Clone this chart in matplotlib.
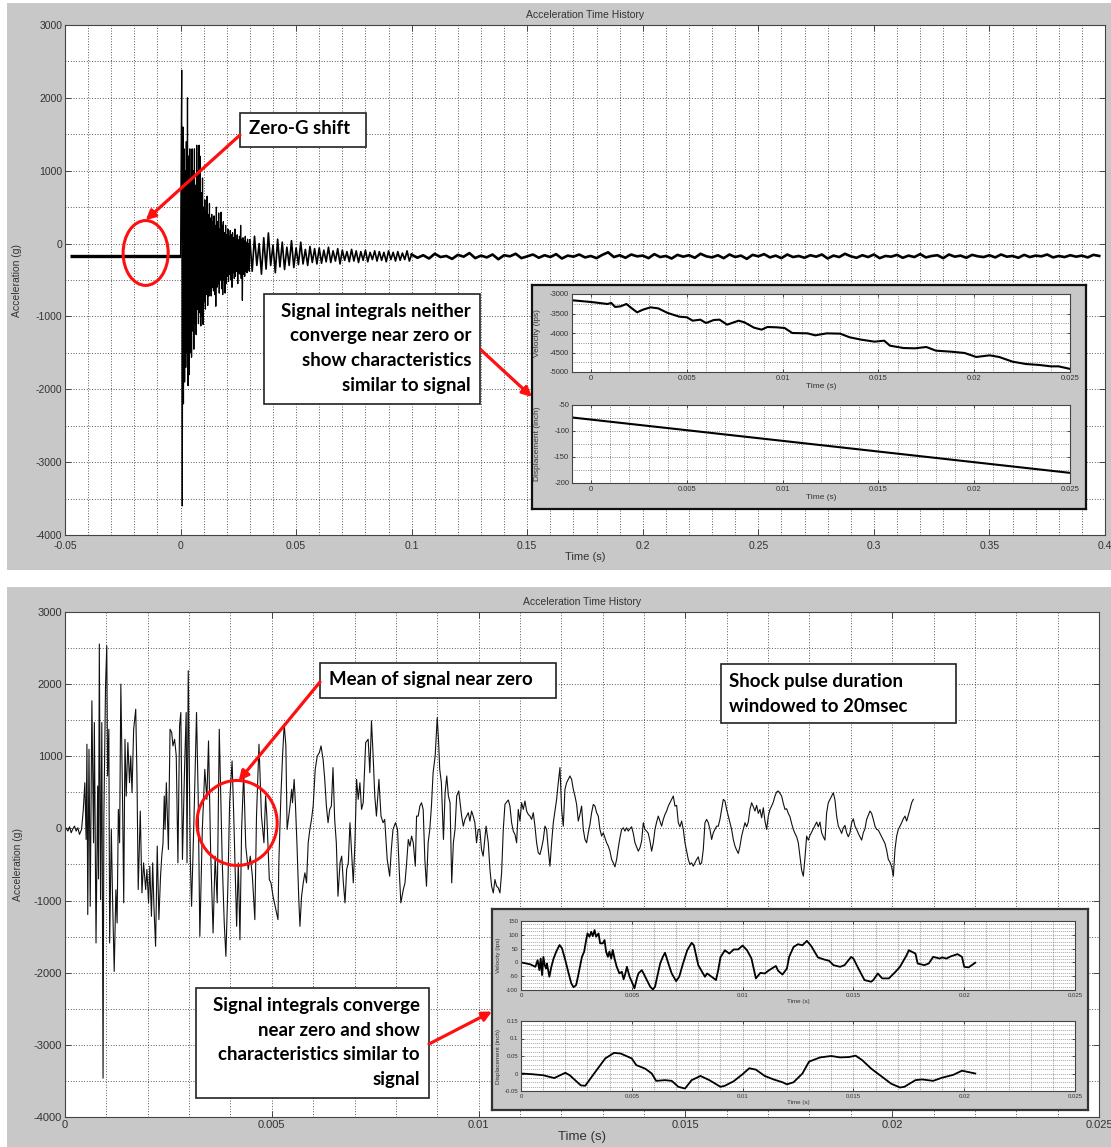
import numpy as np
import matplotlib.pyplot as plt
from matplotlib.patches import Ellipse, Rectangle
from matplotlib.ticker import MultipleLocator, FuncFormatter

# ---------------- top record (zero-g shifted, 0.4 s) ----------------
pre_t = [-0.048, 0.0]
pre_acc = [-170, -170]

# 0 - 29.75 ms, one value every 0.25 ms
burst_acc = [
    -170, 1200, 2380, -3600, 1600, -2200, 1300, -1900,
    1000, -1700, 1400, -1500, 2000, -1950, 1200, -1800,
    1300, -1500, 900, -1560, 1300, -1200, 1000, -1450,
    1300, -1100, 800, -1250, 1350, -900, 1000, -1100,
    1350, -950, 1200, -1130, 700, -1000, 900, -1110,
    500, -800, 600, -900, 450, -700, 650, -850,
    400, -720, 550, -650, 350, -720, 400, -600,
    300, -650, 380, -700, 250, -860, 500, -600,
    300, -550, 420, -680, 200, -500, 430, -620,
    250, -700, 300, -500, 150, -680, 250, -550,
    120, -450, 200, -520, 100, -420, 180, -500,
    120, -600, 150, -400, 80, -480, 200, -450,
    60, -380, 120, -550, 50, -400, 100, -420,
    250, -480, 60, -780, 80, -420, 40, -450,
    100, -380, 20, -400, 60, -360, 0, -380,
]
# 30 - 99 ms, one value every 1 ms
mid_acc = [
    50, -380, 100, -300, 0, -420, 80, -350, 146, -300,
    -20, -400, 60, -320, 20, -356, -50, -300, 40, -330,
    -60, -290, 20, -280, -80, -300, -40, -260, -70, -280,
    -60, -270, -90, -250, -50, -260, -100, -240, -70, -280,
    -90, -230, -110, -250, -80, -240, -100, -260, -110, -230,
    -90, -250, -120, -220, -100, -240, -110, -230, -120, -250,
    -100, -220, -120, -240, -110, -230, -130, -220, -100, -240,
]
# 100 - 397.5 ms, one value every 2.5 ms
tail_acc = [
    -150, -195, -160, -205, -140, -185, -170, -210, -155, -180,
    -130, -200, -165, -190, -150, -215, -160, -175, -140, -200,
    -175, -150, -195, -160, -185, -145, -205, -165, -180, -150,
    -190, -170, -200, -155, -120, -185, -160, -195, -150, -175,
    -165, -200, -145, -185, -170, -205, -155, -180, -160, -195,
    -140, -175, -190, -160, -200, -150, -185, -165, -210, -155,
    -175, -145, -190, -165, -200, -150, -185, -170, -195, -160,
    -180, -150, -205, -165, -185, -140, -175, -195, -160, -185,
    -150, -200, -170, -180, -155, -195, -165, -185, -145, -190,
    -170, -160, -200, -150, -180, -165, -195, -155, -175, -185,
    -160, -190, -150, -180, -170, -195, -155, -185, -165, -175,
    -150, -190, -170, -185, -160, -180, -165, -190, -155, -170,
]

# integrals of the shifted record
vel1_t = [-0.00097, 0.0, 0.00085, 0.00105, 0.00125, 0.00154, 0.00184, 0.0021, 0.0024,
          0.0027, 0.0031, 0.0035, 0.004, 0.0046, 0.005, 0.0053, 0.0057, 0.006, 0.0064,
          0.0067, 0.0071, 0.0077, 0.008, 0.0085, 0.0089, 0.0092, 0.0097, 0.0101, 0.0105,
          0.0113, 0.0117, 0.0123, 0.013, 0.0135, 0.0141, 0.0148, 0.0153, 0.0156, 0.0163,
          0.0169, 0.0175, 0.018, 0.0188, 0.0195, 0.0201, 0.0208, 0.0213, 0.022, 0.0227,
          0.0234, 0.024, 0.0244, 0.025]
vel1_v = [-3162, -3205, -3256, -3230, -3333, -3316, -3256, -3359, -3470,
          -3402, -3342, -3368, -3487, -3581, -3598, -3684, -3658, -3744, -3667,
          -3658, -3786, -3684, -3726, -3863, -3914, -3846, -3855, -3872, -4000,
          -4009, -4060, -4009, -4017, -4111, -4171, -4222, -4197, -4325, -4385,
          -4393, -4359, -4453, -4479, -4513, -4615, -4573, -4615, -4735, -4795,
          -4820, -4855, -4855, -4920]
disp1_t = [-0.001, 0.005, 0.01, 0.015, 0.02, 0.025]
disp1_d = [-74, -98.5, -119, -139.5, -160, -180.5]

# ---------------- bottom record (windowed to 20 ms) ----------------
# first 10 ms, times in ms
win_t_ms = [
    0.02, 0.07, 0.11, 0.15, 0.19, 0.23, 0.27, 0.31, 0.35, 0.40, 0.44, 0.48, 0.51, 0.53,
    0.55, 0.58, 0.61, 0.65, 0.69, 0.71, 0.75, 0.79, 0.81, 0.83, 0.86, 0.89, 0.92, 0.94,
    0.98, 1.01, 1.03, 1.06, 1.08, 1.12, 1.15, 1.19, 1.23, 1.26, 1.29, 1.32, 1.35, 1.39,
    1.42, 1.45, 1.48, 1.52, 1.56, 1.59, 1.62, 1.66, 1.71, 1.74, 1.77, 1.82, 1.86, 1.90,
    1.95, 1.98, 2.02, 2.05, 2.09, 2.12, 2.15, 2.19, 2.23, 2.27, 2.31, 2.34, 2.37, 2.40,
    2.42, 2.45, 2.50, 2.54, 2.58, 2.61, 2.65, 2.69, 2.73, 2.77, 2.80, 2.84, 2.89, 2.93,
    2.95, 2.98, 3.03, 3.06, 3.12, 3.18, 3.22, 3.26, 3.32, 3.38, 3.43, 3.47, 3.52, 3.58,
    3.63, 3.68, 3.73, 3.80, 3.85, 3.89, 3.94, 3.98, 4.04, 4.08, 4.15, 4.19, 4.23, 4.27,
    4.32, 4.37, 4.43, 4.48, 4.53, 4.59, 4.63, 4.69, 4.75, 4.81, 4.85, 4.88, 4.94, 4.98,
    5.03, 5.10, 5.15, 5.17, 5.22, 5.26, 5.30, 5.34, 5.37, 5.40, 5.44, 5.48, 5.50, 5.54,
    5.57, 5.61, 5.65, 5.68, 5.72, 5.76, 5.80, 5.84, 5.88, 5.92, 5.96, 6.00, 6.05, 6.10,
    6.15, 6.19, 6.24, 6.28, 6.32, 6.36, 6.40, 6.44, 6.48, 6.52, 6.56, 6.60, 6.65, 6.69,
    6.73, 6.77, 6.81, 6.85, 6.89, 6.93, 6.97, 7.01, 7.05, 7.09, 7.13, 7.17, 7.21, 7.27,
    7.33, 7.37, 7.41, 7.45, 7.49, 7.53, 7.59, 7.64, 7.69, 7.73, 7.79, 7.85, 7.89, 7.93,
    7.99, 8.04, 8.08, 8.12, 8.18, 8.22, 8.26, 8.30, 8.34, 8.38, 8.42, 8.47, 8.50, 8.54,
    8.58, 8.62, 8.66, 8.70, 8.74, 8.78, 8.82, 8.86, 8.90, 8.95, 9.00, 9.03, 9.06, 9.10,
    9.15, 9.19, 9.23, 9.27, 9.31, 9.35, 9.39, 9.43, 9.47, 9.52, 9.59, 9.63, 9.67, 9.71,
    9.75, 9.79, 9.83, 9.87, 9.91, 9.95, 9.99, 10.03, 10.07, 10.11, 10.18,
]
win_acc = [
    9, -37, 23, -60, -5, 32, -37, 9, -83, -14, 241, 634, -153, 1167,
    -1194, 1097, -1079, 1769, -199, 1468, -1588, 588, -700, 2556, -986, 1468, -3463, 171,
    1977, 2533, 727, 1375, -1588, -14, -986, -1982, -850, -1310, 264, -199, 2000, 449,
    -1032, 1236, 449, 1190, 634, 1005, 495, 1375, 1653, 727, -847, 240, -894, -477,
    -847, -569, -1032, -523, -1218, -477, -1079, -1634, -245, -1264, -662, -384, -199, 449,
    -14, 634, -291, 1375, 1329, 1144, 1236, 1005, -477, 1421, 1607, -430, 820, 1607,
    -477, 2185, -430, -1079, 171, 1607, 449, -1496, -14, 820, 403, 1213, -291, -1449,
    -384, -1032, 1375, -430, -1310, -1773, -755, 356, 935, 171, -1357, -477, -1542, -14,
    773, -245, -569, -384, -662, -1264, 171, 1167, 171, -199, 449, 171, -708, -754,
    -940, -1125, -1264, -477, 449, 1005, 1445, 1144, -14, 125, 310, 542, 356, 680,
    356, -245, -940, -1357, -940, -755, -616, -755, -199, -14, 125, 310, 820, 1005,
    1051, 1144, 958, 680, 310, 79, 264, 310, 843, 125, -199, -940, -477, -384,
    -755, -1032, -569, -477, 79, -338, -755, -199, 680, 403, 634, 264, 356, 1190,
    1236, 773, 1491, 1005, 449, 171, 680, 171, 79, 125, -430, -662, -292, -14,
    79, -14, -569, -1032, -847, -755, -477, -153, -245, -106, -199, -523, 171, 171,
    310, 356, 264, -430, -801, -199, -14, 310, 773, 1005, 1537, 1236, 820, 634,
    -153, 495, 727, 449, 356, -755, -199, -14, 449, 519, 171, 32, 125, 171,
    218, 102, 241, 171, 79, -199, -14, -14, -292, -384, 32,
]
# 10.234 ms onward, one value every 0.0403 ms
win_tail_start_ms = 10.234
win_tail_step_ms = 0.0403
win_tail_acc = [
    -199, -569, -801, -894, -708, -801, -824, -894, -616, -14, 333, 366, 394, 310, 79,
    -37, -83, -199, 264, 102, 356, 264, 380, 241, 194, 171, 125, 218, 32, -199,
    -338, -361, -269, -153, 32, -14, -292, -523, -199, 79, 241, 403, 634, 843, 264,
    32, 542, 634, 680, 727, 680, 542, 449, 333, 102, 194, 310, -14, -153, -199,
    -60, 56, 218, 333, 310, 218, 171, -14, -106, -60, -130, -199, -245, -315, -430,
    -477, -532, -430, -269, -130, -14, 9, -37, 9, -37, -5, 23, -69, -199, -255,
    -315, -269, -176, 79, -14, -37, -69, -176, -315, -199, -14, 88, 171, 102, 32,
    125, 194, 241, 310, 356, 403, 449, 310, 319, 79, 23, 102, -14, -199, -315,
    -430, -500, -477, -523, -477, -430, -394,
    -500, -477, -292, 79, 125, 79, -14, -153, -60, -14, 32, 32, 125, 264, 403,
    380, 264, 171, 79, -14, -153, -245, -301, -347, -245, -106, -14, 79, 23, 88,
    264, 356, 301, 241, 319, 208, 264, 148, 287, 102, -14, 171, 264, 310, 366,
    449, 505, 519, 486, 449, 347, 264, 273, 208, 162, 69, -14, -69, -116, -199,
    -384, -579, -662, -407, -106, -162, -97, -51, -5, 42, 88, 23, 88, -60, -116,
    -162, 218, 356, 403, 449, 495, 394, 171, 32, -14, -69, 9, 42, -60, -116,
    -60, 79, 134, 32, -14, -69, -116, -162, -60, -5, 125, 181, 241, 208, 125,
    32, -14, -23, -69, -116, -162, -208, -301, -430, -467, -532, -662, -292, -106, -14,
    32, 79, 134, 171, 102, 181, 264, 356, 403,
]

# integrals of the windowed record
vel2_t_ms = [0, 0.42, 0.65, 0.75, 0.83, 0.89, 0.95, 1.01, 1.07, 1.13, 1.17, 1.28, 1.37,
             1.47, 1.59, 1.74, 1.85, 2.0, 2.15, 2.27, 2.37, 2.49, 2.6, 2.75, 2.85, 2.94,
             3.0, 3.09, 3.17, 3.24, 3.32, 3.39, 3.5, 3.57, 3.69, 3.77, 3.84, 3.92, 3.99,
             4.07, 4.14, 4.22, 4.32, 4.44, 4.55, 4.63, 4.71, 4.78, 4.9, 5.0, 5.12, 5.23,
             5.3, 5.45, 5.53, 5.68, 5.83, 5.95, 6.05, 6.13, 6.28, 6.4, 6.5, 6.65, 6.8,
             7.0, 7.14, 7.3, 7.5, 7.7, 7.8, 8.0, 8.3, 8.4, 8.6, 8.8, 8.9, 9.0, 9.2, 9.4,
             9.6, 9.8, 10.0, 10.2, 10.4, 10.6, 10.8, 11.0, 11.2, 11.5, 11.6, 11.8, 12.0,
             12.1, 12.3, 12.5, 12.7, 12.9, 13.1, 13.4, 13.7, 13.9, 14.1, 14.4, 14.6,
             14.9, 15.0, 15.2, 15.5, 15.8, 15.9, 16.1, 16.3, 16.6, 16.9, 17.1, 17.4,
             17.5, 17.8, 17.9, 18.2, 18.4, 18.6, 18.9, 19.0, 19.2, 19.4, 19.7, 19.9,
             20.0, 20.2, 20.5]
vel2_v = [0, -7, -16, 8, -28, 14, -46, 20, -10, -22, -4, -52, -16,
          14, 39, 63, 51, 8, -40, -76, -90, -82, -40, 20, 39, 81,
          105, 93, 111, 95, 117, 93, 105, 69, 69, 81, 39, 20, 39,
          14, 45, 14, -16, -40, -34, -61, -40, -16, -52, -70, -94, -58,
          -40, -28, -40, -64, -88, -98, -88, -58, -4, 20, 35, -4, -40,
          -68, -52, -7, 44, 71, 62, -10, -52, -40, -52, -64, -28, 18, 44, 32,
          47, 47, 61, 44, 14, -58, -38, -40, -28, -13, -30, -44, -22,
          20, 56, 66, 62, 78, 59, 18, 10, 6, -10, -16, -10,
          20, 14, -18, -64, -70, -64, -40, -58, -58, -34, -16, 26,
          44, 32, -4, -10, -4, 20, 14, 18, 14, 22, 30, 20,
          -16, -18, -1]
disp2_t_ms = [0, 0.5, 1.0, 1.5, 1.8, 2.0, 2.2, 2.7, 2.9, 3.3, 3.8, 4.2, 4.5, 5.0, 5.2,
              5.6, 5.9, 6.1, 6.5, 6.8, 7.1, 7.4, 7.7, 8.1, 8.5, 9.0, 9.2, 9.6, 10.0,
              10.3, 10.6, 11.0, 11.4, 11.8, 12.0, 12.3, 12.7, 13.0, 13.5, 14.0, 14.4,
              14.8, 15.1, 15.4, 15.8, 16.2, 16.7, 17.1, 17.3, 17.8, 18.1, 18.6, 19.0,
              19.5, 19.9, 20.2, 20.5]
disp2_d = [0, -0.002, -0.005, -0.013, -0.004, 0.002, -0.005, -0.034, -0.035, 0.0, 0.043,
           0.059, 0.057, 0.043, 0.024, 0.014, 0.0, -0.021, -0.019, -0.021, -0.038, -0.043,
           -0.019, -0.007, -0.019, -0.038, -0.035, -0.022, -0.002, 0.015, 0.011, -0.007,
           -0.017, -0.025, -0.031, -0.025, 0.0, 0.034, 0.046, 0.05, 0.046, 0.047, 0.051,
           0.038, 0.014, -0.005, -0.029, -0.040, -0.038, -0.019, -0.017, -0.021, -0.012,
           -0.004, 0.008, 0.004, 0.0]

# ---------------- drawing ----------------
W, H = 1111, 1147
GRAY = '#c8c8c8'
TXT = '#333333'
MFONT = 'Liberation Sans'


def frac(x0, y0, x1, y1):
    # pixel box (top-left origin) -> figure fraction rect
    return [x0 / W, 1 - y1 / H, (x1 - x0) / W, (y1 - y0) / H]


def fmt(v, pos):
    return '%g' % (round(v, 6) + 0.0)


def matlab_axes(ax, xmaj, xmin, ymaj, ymin, fs, lw=0.6, xpad=2):
    ax.xaxis.set_major_locator(MultipleLocator(xmaj))
    ax.xaxis.set_minor_locator(MultipleLocator(xmin))
    ax.yaxis.set_major_locator(MultipleLocator(ymaj))
    ax.yaxis.set_minor_locator(MultipleLocator(ymin))
    ax.xaxis.set_major_formatter(FuncFormatter(fmt))
    ax.yaxis.set_major_formatter(FuncFormatter(fmt))
    ax.grid(True, which='both', linestyle=(0, (1, 2.2)), color='#222222', linewidth=lw)
    ax.set_axisbelow(True)
    ax.tick_params(which='major', direction='in', top=True, right=True, length=4,
                   width=0.7, labelsize=fs, labelcolor=TXT, color='#444444', pad=2)
    ax.tick_params(axis='x', which='major', pad=xpad)
    ax.tick_params(which='minor', length=0)
    for sp in ax.spines.values():
        sp.set_color('#444444')
        sp.set_linewidth(0.8)
    for lab in ax.get_xticklabels() + ax.get_yticklabels():
        lab.set_family(MFONT)


fig = plt.figure(figsize=(W / 100, H / 100), dpi=100)

# gray figure panels
for rect in (frac(7, 3, W, 570), frac(7, 587, W, H)):
    bg = fig.add_axes(rect)
    bg.set_facecolor(GRAY)
    bg.set_xticks([])
    bg.set_yticks([])
    for sp in bg.spines.values():
        sp.set_visible(False)

# ---- top main axes ----
ax1 = fig.add_axes(frac(65, 25, 1105, 535))
t_burst = np.arange(len(burst_acc)) * 0.25e-3
t_mid = 0.030 + np.arange(len(mid_acc)) * 1e-3
t_tail = 0.100 + np.arange(len(tail_acc)) * 2.5e-3
ax1.plot(pre_t, pre_acc, color='k', lw=2.4, solid_capstyle='butt')
ax1.plot(np.concatenate([t_burst, t_mid[:1]]), burst_acc + mid_acc[:1], color='k', lw=0.9)
ax1.plot(np.concatenate([t_mid, t_tail[:1]]), mid_acc + tail_acc[:1], color='k', lw=1.2)
ax1.plot(t_tail, tail_acc, color='k', lw=1.9)
ax1.set_xlim(-0.05, 0.4)
ax1.set_ylim(-4000, 3000)
matlab_axes(ax1, 0.05, 0.01, 1000, 500, 7.5, xpad=4)
ax1.set_title('Acceleration Time History', fontsize=7.5, color=TXT, family=MFONT, pad=5)
ax1.set_xlabel('Time (s)', fontsize=8, color=TXT, family=MFONT, labelpad=1)
ax1.set_ylabel('Acceleration (g)', fontsize=7.5, color=TXT, family=MFONT)
ax1.yaxis.set_label_coords(-0.041, 0.5)
ax1.add_patch(Ellipse((-0.0151, -129), 0.0195, 890, fill=False, edgecolor='#ff1010',
                      lw=2.2, zorder=5))

# top inset
box1 = fig.add_axes(frac(532, 285, 1086, 509))
box1.set_facecolor(GRAY)
box1.set_xticks([])
box1.set_yticks([])
for sp in box1.spines.values():
    sp.set_color('#111111')
    sp.set_linewidth(1.6)

v1 = fig.add_axes(frac(572, 294, 1070, 372))
v1.plot(vel1_t, vel1_v, color='k', lw=1.5)
v1.set_xlim(-0.001, 0.025)
v1.set_ylim(-5000, -3000)
matlab_axes(v1, 0.005, 0.001, 500, 250, 5.5, lw=0.5)
v1.tick_params(which='major', length=2.5)
v1.set_xlabel('Time (s)', fontsize=6, color=TXT, family=MFONT, labelpad=1)
v1.set_ylabel('Velocity (ips)', fontsize=6, color=TXT, family=MFONT)
v1.yaxis.set_label_coords(-0.062, 0.5)

d1 = fig.add_axes(frac(572, 405, 1070, 483))
d1.plot(disp1_t, disp1_d, color='k', lw=1.5)
d1.set_xlim(-0.001, 0.025)
d1.set_ylim(-200, -50)
matlab_axes(d1, 0.005, 0.001, 50, 25, 5.5, lw=0.5)
d1.tick_params(which='major', length=2.5)
d1.set_xlabel('Time (s)', fontsize=6, color=TXT, family=MFONT, labelpad=1)
d1.set_ylabel('Displacement (inch)', fontsize=6, color=TXT, family=MFONT)
d1.yaxis.set_label_coords(-0.062, 0.5)

# ---- bottom main axes ----
ax2 = fig.add_axes(frac(65, 612, 1099, 1117))
t_win = np.concatenate([np.array(win_t_ms),
                        win_tail_start_ms + np.arange(len(win_tail_acc)) * win_tail_step_ms]) / 1000
a_win = np.concatenate([win_acc, win_tail_acc])
ax2.plot(t_win, a_win, color='#111111', lw=0.8)
ax2.set_xlim(0, 0.025)
ax2.set_ylim(-4000, 3000)
matlab_axes(ax2, 0.005, 0.001, 1000, 500, 8)
ax2.set_title('Acceleration Time History', fontsize=7.5, color=TXT, family=MFONT, pad=5)
ax2.set_xlabel('Time (s)', fontsize=9.5, color=TXT, family=MFONT, labelpad=1)
ax2.set_ylabel('Acceleration (g)', fontsize=7.5, color=TXT, family=MFONT)
ax2.yaxis.set_label_coords(-0.041, 0.5)
ax2.add_patch(Ellipse((0.00416, 76), 0.00194, 1178, fill=False, edgecolor='#ff1010',
                      lw=2.2, zorder=5))

# bottom inset
box2 = fig.add_axes(frac(492, 909, 1088, 1110))
box2.set_facecolor(GRAY)
box2.set_xticks([])
box2.set_yticks([])
for sp in box2.spines.values():
    sp.set_color('#333333')
    sp.set_linewidth(1.6)

v2 = fig.add_axes(frac(521, 921, 1075, 990))
v2.plot(np.array(vel2_t_ms) / 1000, vel2_v, color='k', lw=1.3)
v2.set_xlim(0, 0.025)
v2.set_ylim(-100, 150)
matlab_axes(v2, 0.005, 0.001, 50, 12.5, 4.3, lw=0.45)
v2.tick_params(which='major', length=2)
v2.set_xlabel('Time (s)', fontsize=4.5, color=TXT, family=MFONT, labelpad=1)
v2.set_ylabel('Velocity (ips)', fontsize=4.5, color=TXT, family=MFONT)
v2.yaxis.set_label_coords(-0.036, 0.5)

d2 = fig.add_axes(frac(521, 1021, 1075, 1091))
d2.plot(np.array(disp2_t_ms) / 1000, disp2_d, color='k', lw=1.3)
d2.set_xlim(0, 0.025)
d2.set_ylim(-0.05, 0.15)
matlab_axes(d2, 0.005, 0.001, 0.05, 0.0125, 4.3, lw=0.45)
d2.tick_params(which='major', length=2)
d2.set_xlabel('Time (s)', fontsize=4.5, color=TXT, family=MFONT, labelpad=1)
d2.set_ylabel('Displacement (inch)', fontsize=4.5, color=TXT, family=MFONT)
d2.yaxis.set_label_coords(-0.036, 0.5)

# ---- callouts on a pixel overlay ----
ov = fig.add_axes([0, 0, 1, 1], zorder=10)
ov.set_xlim(0, W)
ov.set_ylim(H, 0)
ov.axis('off')
ov.patch.set_alpha(0)

CFS = 13.4
RED = '#ff1010'


def callout(x0, y0, x1, y1, lines, ys, xt, ha):
    ov.add_patch(Rectangle((x0, y0), x1 - x0, y1 - y0, facecolor='white',
                           edgecolor='#222222', lw=1.2))
    for s, y in zip(lines, ys):
        ov.text(xt, y, s, ha=ha, va='center', fontsize=CFS, fontweight='bold',
                family='Lato', color='black')


def arrow(start, tip, coords):
    ov.annotate('', xy=tip, xycoords=coords, xytext=start, textcoords='data',
                arrowprops=dict(arrowstyle='-|>', color=RED, lw=2.3, mutation_scale=14,
                                shrinkA=0, shrinkB=0))


callout(240, 113, 366, 147, ['Zero-G shift'], [129], 249, 'left')
arrow((240, 135), (-0.0151, 320), ax1.transData)

callout(264, 294, 480, 404,
        ['Signal integrals neither', 'converge near zero or',
         'show characteristics', 'similar to signal'],
        [311, 336, 361, 386], 471, 'right')
arrow((481, 350), (0, 0.5), box1.transAxes)

callout(320, 663, 556, 698, ['Mean of signal near zero'], [680], 329, 'left')
arrow((320, 682), (0.0042, 660), ax2.transData)

callout(721, 664, 956, 723, ['Shock pulse duration', 'windowed to 20msec'],
        [681, 706], 729, 'left')

callout(196, 988, 429, 1098,
        ['Signal integrals converge', 'near zero and show',
         'characteristics similar to', 'signal'],
        [1006, 1030, 1055, 1079], 420, 'right')
arrow((429, 1044), (0, 0.49), box2.transAxes)

fig.savefig('out.png', dpi=100)
